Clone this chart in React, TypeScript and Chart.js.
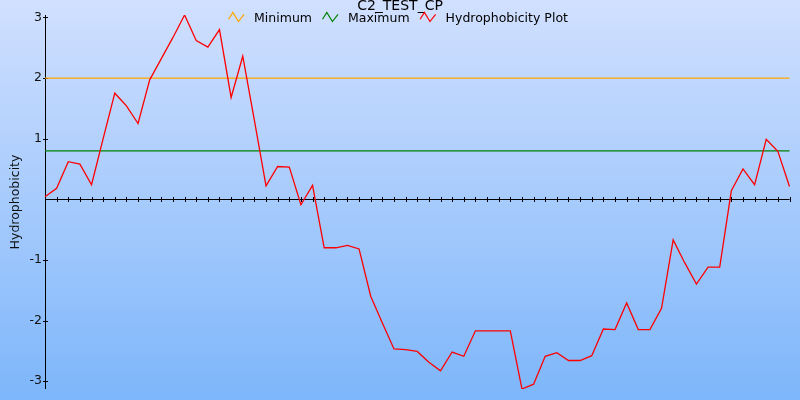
import React, { useEffect, useRef } from "react";
import { Chart, registerables } from "chart.js";

Chart.register(...registerables);

const chartTitle = "C2_TEST_CP";
const yAxisTitle = "Hydrophobicity";
const FONT = "'DejaVu Sans', Verdana, sans-serif";

// residue positions (category axis, no labels shown)
const positions = [
  1, 2, 3, 4, 5, 6, 7, 8, 9, 10, 11, 12, 13, 14, 15, 16, 17, 18, 19, 20,
  21, 22, 23, 24, 25, 26, 27, 28, 29, 30, 31, 32, 33, 34, 35, 36, 37, 38, 39, 40,
  41, 42, 43, 44, 45, 46, 47, 48, 49, 50, 51, 52, 53, 54, 55, 56, 57, 58, 59, 60,
  61, 62, 63, 64, 65,
];

const hydrophobicity = [
  0.04, 0.18, 0.62, 0.58, 0.24, 1.0, 1.75, 1.54, 1.25, 1.97,
  2.32, 2.67, 3.04, 2.62, 2.51, 2.8, 1.68, 2.36, 1.3, 0.22,
  0.54, 0.53, -0.09, 0.23, -0.8, -0.8, -0.76, -0.82, -1.6, -2.04,
  -2.47, -2.48, -2.51, -2.69, -2.83, -2.52, -2.59, -2.17, -2.17, -2.17,
  -2.17, -3.13, -3.05, -2.59, -2.53, -2.66, -2.66, -2.58, -2.14, -2.15,
  -1.71, -2.15, -2.15, -1.8, -0.67, -1.05, -1.4, -1.12, -1.12, 0.14,
  0.5, 0.24, 0.99, 0.79, 0.21,
];

const minimumValue = 2.0;
const maximumValue = 0.8;

const yTickValues = [-3, -2, -1, 1, 2, 3];

const seriesLabels = ["Minimum", "Maximum", "Hydrophobicity Plot"];
const seriesColors = ["#ffa500", "#008000", "#ff0000"];

const backgroundPlugin = {
  id: "bgGradient",
  beforeDraw(chart: any) {
    const { ctx, width, height } = chart;
    const g = ctx.createLinearGradient(0, 0, 0, height);
    g.addColorStop(0, "#d1e0ff");
    g.addColorStop(1, "#7db6fa");
    ctx.save();
    ctx.fillStyle = g;
    ctx.fillRect(0, 0, width, height);
    ctx.restore();
  },
};

const axesPlugin = {
  id: "crossAxes",
  beforeDatasetsDraw(chart: any) {
    const { ctx, chartArea, scales } = chart;
    const xs = scales.x;
    const ys = scales.y;
    const y0 = Math.round(ys.getPixelForValue(0)) + 0.5;
    const xl = Math.round(chartArea.left) + 0.5;
    ctx.save();
    ctx.strokeStyle = "#000";
    ctx.lineWidth = 1;
    ctx.beginPath();
    ctx.moveTo(xl, chartArea.top);
    ctx.lineTo(xl, chartArea.bottom);
    ctx.moveTo(chartArea.left, y0);
    ctx.lineTo(chartArea.right, y0);
    for (let i = 0; i < positions.length; i++) {
      const px = Math.round(xs.getPixelForValue(i)) + 0.5;
      ctx.moveTo(px, y0 - 2.5);
      ctx.lineTo(px, y0 + 2.5);
    }
    for (const v of yTickValues) {
      const py = Math.round(ys.getPixelForValue(v)) + 0.5;
      ctx.moveTo(xl - 2.5, py);
      ctx.lineTo(xl + 2.5, py);
    }
    ctx.stroke();
    ctx.restore();
  },
};

const titleLegendPlugin = {
  id: "titleLegend",
  afterDraw(chart: any) {
    const { ctx, width } = chart;
    ctx.save();
    ctx.font = `14px ${FONT}`;
    ctx.fillStyle = "#000";
    ctx.textAlign = "center";
    ctx.textBaseline = "alphabetic";
    ctx.fillText(chartTitle, width / 2, 10);

    ctx.font = `12.5px ${FONT}`;
    const iconW = 16;
    const gapIconText = 10;
    const gapItems = 10;
    const items = chart.data.datasets.map((d: any) => ({
      label: d.label,
      color: d.borderColor,
      w: ctx.measureText(d.label).width,
    }));
    let total = 0;
    items.forEach((it: any, i: number) => {
      total += iconW + gapIconText + it.w + (i < items.length - 1 ? gapItems : 0);
    });
    let x = width / 2 - total / 2 - 2;
    const baseline = 22;
    const iconTop = 12.5;
    const iconH = 9;
    ctx.textAlign = "left";
    for (const it of items) {
      ctx.strokeStyle = it.color;
      ctx.lineWidth = 1.2;
      ctx.beginPath();
      ctx.moveTo(x + 0.5, iconTop + iconH * 0.75);
      ctx.lineTo(x + iconW * 0.3, iconTop);
      ctx.lineTo(x + iconW * 0.65, iconTop + iconH);
      ctx.lineTo(x + iconW, iconTop + iconH * 0.2);
      ctx.stroke();
      ctx.fillStyle = "#000";
      ctx.fillText(it.label, x + iconW + gapIconText, baseline);
      x += iconW + gapIconText + it.w + gapItems;
    }
    ctx.restore();
  },
};

export default function App() {
  const canvasRef = useRef<HTMLCanvasElement | null>(null);

  useEffect(() => {
    document.body.style.margin = "0";
    const canvas = canvasRef.current;
    if (!canvas) return;
    const chart = new Chart(canvas, {
      type: "line",
      data: {
        labels: positions,
        datasets: [
          {
            label: seriesLabels[0],
            data: positions.map(() => minimumValue),
            borderColor: seriesColors[0],
            borderWidth: 1.3,
            pointRadius: 0,
            fill: false,
            order: 2,
          },
          {
            label: seriesLabels[1],
            data: positions.map(() => maximumValue),
            borderColor: seriesColors[1],
            borderWidth: 1.3,
            pointRadius: 0,
            fill: false,
            order: 1,
          },
          {
            label: seriesLabels[2],
            data: hydrophobicity,
            borderColor: seriesColors[2],
            borderWidth: 1.3,
            pointRadius: 0,
            fill: false,
            tension: 0,
            order: 0,
          },
        ],
      },
      options: {
        animation: false,
        responsive: false,
        devicePixelRatio: 1,
        layout: { padding: { left: 0, top: 15, right: 10.5, bottom: 11 } },
        plugins: {
          legend: { display: false },
          title: { display: false },
          tooltip: { enabled: false },
        },
        scales: {
          x: {
            type: "category",
            display: false,
            offset: false,
          },
          y: {
            type: "linear",
            min: Math.min(...hydrophobicity),
            max: Math.max(...hydrophobicity),
            afterFit: (scale: any) => {
              scale.width = 45;
            },
            afterBuildTicks: (scale: any) => {
              scale.ticks = yTickValues.map((v) => ({ value: v }));
            },
            grid: { display: false, drawTicks: false },
            border: { display: false },
            ticks: {
              padding: 3,
              color: "#111",
              font: { family: FONT, size: 12.5 },
              callback: (v: any) => String(v),
            },
            title: {
              display: true,
              text: yAxisTitle,
              color: "#111",
              font: { family: FONT, size: 12.5 },
              padding: { top: 8, bottom: 0 },
            },
          },
        },
      },
      plugins: [backgroundPlugin, axesPlugin, titleLegendPlugin],
    });
    return () => chart.destroy();
  }, []);

  return (
    <div style={{ position: "fixed", left: 0, top: 0, width: 800, height: 400 }}>
      <canvas ref={canvasRef} width={800} height={400} style={{ display: "block" }} />
    </div>
  );
}
